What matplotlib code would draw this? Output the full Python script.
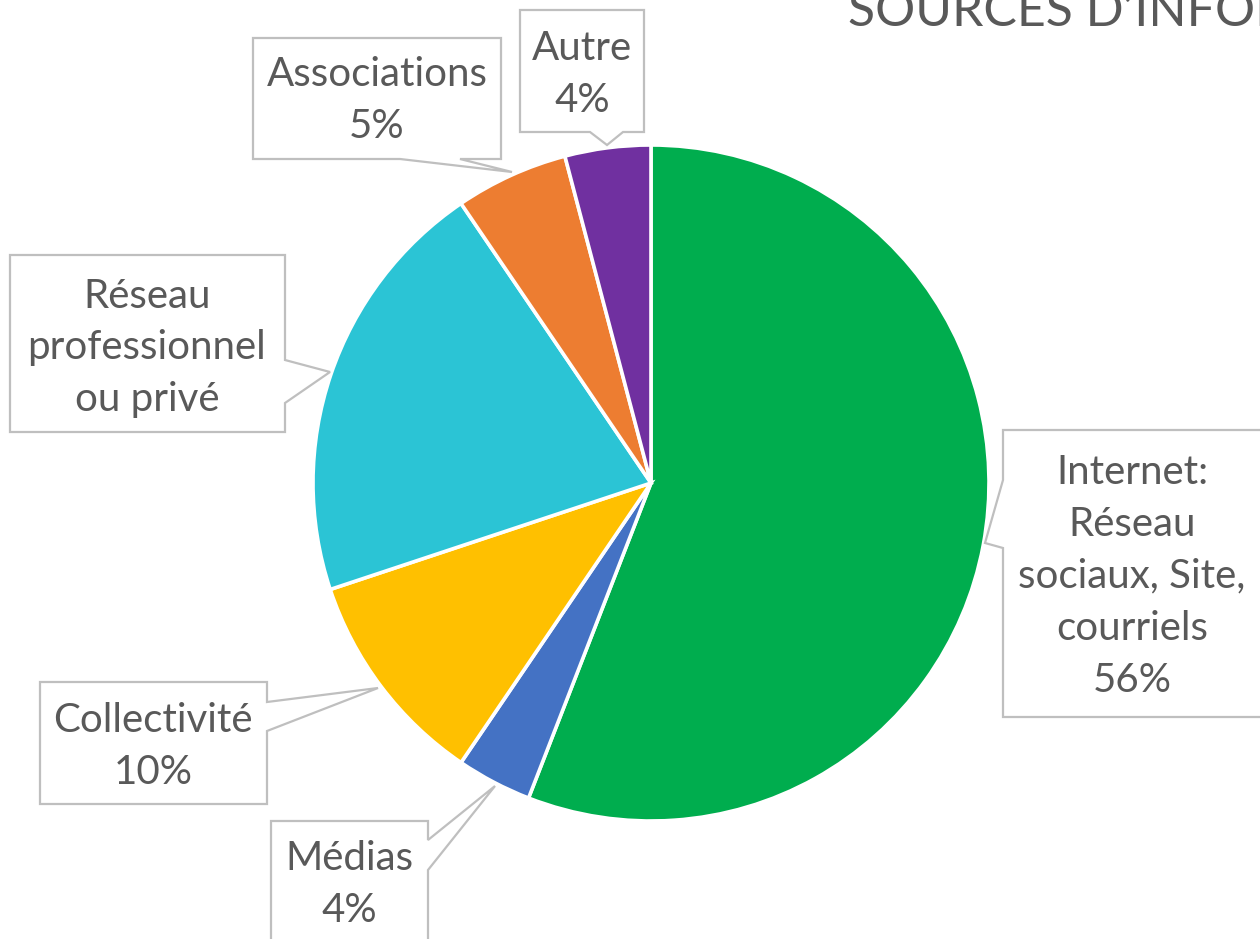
import matplotlib
matplotlib.use("Agg")
import matplotlib.pyplot as plt
from matplotlib.patches import Polygon

# ---- data ----
categories = ["Internet", "Médias", "Collectivité", "Réseau professionnel ou privé", "Associations", "Autre"]
values = [55.9, 3.6, 10.4, 20.6, 5.4, 4.1]
colors = ["#00AD4E", "#4472C4", "#FFC000", "#2BC4D5", "#ED7D31", "#7030A0"]
label_texts = ["Internet:\nRéseau\nsociaux, Site,\ncourriels", "Médias", "Collectivité",
               "Réseau\nprofessionnel\nou privé", "Associations", "Autre"]
show_pct = [True, True, True, False, True, True]
title = "SOURCES D’INFORMATION"

W, H = 1260, 939
fig = plt.figure(figsize=(W / 100, H / 100), dpi=100)
ax = fig.add_axes([0, 0, 1, 1])

def Y(y):
    return H - y

cx, cy, r = 651, 483, 338
ax.pie(values, colors=colors, startangle=90, counterclock=False,
       center=(cx, Y(cy)), radius=r,
       wedgeprops=dict(edgecolor="white", linewidth=2.6), frame=True)
ax.set_xlim(0, W)
ax.set_ylim(0, H)
ax.set_aspect("equal")
ax.axis("off")

# callout layout: box (x0, y0, x1, y1), pointer (side, a, b, tip), text center
callouts = [
    ((1003, 430, 1300, 717), ("left", 480, 548, (985, 543)), (1132, 576)),
    ((271, 821, 428, 980), ("right", 840, 870, (495, 786)), (349, 884)),
    ((40, 682, 267, 804), ("right", 702, 731, (378, 688)), (153, 746)),
    ((10, 255, 285, 432), ("right", 360, 403, (330, 372)), (147, 348)),
    ((253, 38, 501, 159), ("bottom", 400, 460, (512, 172)), (377, 101)),
    ((520, 10, 644, 132), ("bottom", 590, 623, (607, 145)), (582, 75)),
]

def callout_poly(box, ptr):
    x0, y0, x1, y1 = box
    side, a, b, tip = ptr
    if side == "left":
        pts = [(x0, y0), (x1, y0), (x1, y1), (x0, y1), (x0, b), tip, (x0, a)]
    elif side == "right":
        pts = [(x0, y0), (x1, y0), (x1, a), tip, (x1, b), (x1, y1), (x0, y1)]
    else:  # bottom
        pts = [(x0, y0), (x1, y0), (x1, y1), (b, y1), tip, (a, y1), (x0, y1)]
    return [(x, Y(y)) for x, y in pts]

for i, (box, ptr, tc) in enumerate(callouts):
    poly = Polygon(callout_poly(box, ptr), closed=True, facecolor="white",
                   edgecolor="#BFBFBF", linewidth=1.6, zorder=3)
    ax.add_patch(poly)
    txt = label_texts[i]
    if show_pct[i]:
        txt += f"\n{values[i]:.0f}%"
    ax.text(tc[0], Y(tc[1]), txt, ha="center", va="center", fontsize=29,
            family="Lato", color="#595959", linespacing=1.5, zorder=4)

ax.text(848, Y(26), title, ha="left", va="baseline", fontsize=36,
        family="Lato", color="#595959")

fig.savefig("out.png", dpi=100)
